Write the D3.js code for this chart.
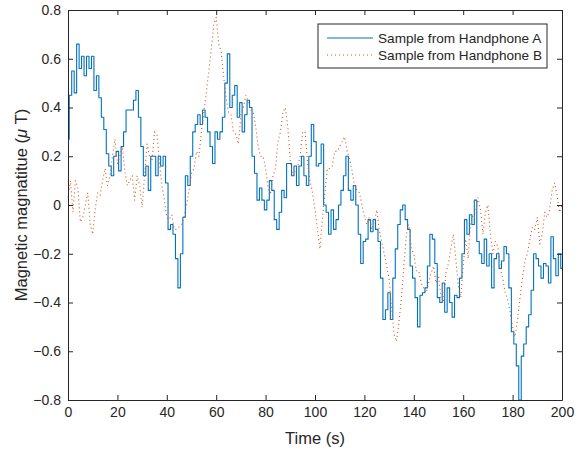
<!DOCTYPE html>
<html>
<head>
<meta charset="utf-8">
<script src="https://cdn.jsdelivr.net/npm/d3@7"></script>
<style>
  body { margin: 0; background: #fff; }
  svg text { font-family: "Liberation Sans", Arial, Helvetica, sans-serif; fill: #262626; }
</style>
</head>
<body>
<div id="chart"></div>
<script>
// Drawing area, the plot box sits inside these margins
const w = 582;
const h = 453;
const margin = { top: 10, right: 20, bottom: 53, left: 68 };

// Time between two samples (s)
const timeStep = 1;

// Handphone A, one value per second from 0 to 200 s (uT)
const seriesA = [
  0.27, 0.45, 0.55, 0.46, 0.66, 0.56, 0.61, 0.53, 0.61, 0.56, 0.61, 0.47, 0.53, 0.44, 0.36, 0.31, 0.21, 0.16, 0.12, 0.20,
  0.22, 0.14, 0.24, 0.30, 0.39, 0.39, 0.39, 0.43, 0.47, 0.36, 0.24, 0.12, 0.16, 0.06, 0.20, 0.20, 0.12, 0.20, 0.16, 0.20,
  0.09, -0.10, -0.08, -0.12, -0.22, -0.34, -0.20, -0.05, 0.12, 0.08, 0.20, 0.30, 0.33, 0.37, 0.33, 0.39, 0.36, 0.30, 0.24, 0.17,
  0.30, 0.27, 0.30, 0.36, 0.50, 0.62, 0.40, 0.45, 0.49, 0.36, 0.42, 0.30, 0.37, 0.43, 0.40, 0.20, 0.13, 0.02, 0.07, 0.02,
  -0.02, 0.02, 0.10, 0.06, -0.06, -0.10, -0.03, 0.06, 0.03, 0.17, 0.17, 0.12, 0.16, 0.08, 0.16, 0.20, 0.12, 0.08, 0.20, 0.33,
  0.26, 0.16, 0.17, 0.25, 0.00, -0.03, -0.12, -0.02, -0.10, -0.06, 0.00, 0.06, 0.12, 0.20, 0.06, 0.02, 0.08, 0.00, -0.12, -0.24,
  -0.15, -0.14, -0.06, -0.11, -0.06, -0.10, -0.15, -0.30, -0.47, -0.43, -0.36, -0.47, -0.30, -0.18, -0.08, -0.02, 0.00, -0.06, -0.10, -0.25,
  -0.30, -0.38, -0.50, -0.37, -0.36, -0.34, -0.25, -0.12, -0.14, -0.24, -0.38, -0.40, -0.32, -0.44, -0.34, -0.40, -0.46, -0.37, -0.38, -0.30,
  -0.20, -0.06, -0.12, -0.04, -0.08, 0.02, -0.15, -0.20, -0.24, -0.14, -0.25, -0.20, -0.34, -0.22, -0.20, -0.26, -0.23, -0.17, -0.20, -0.34,
  -0.52, -0.57, -0.66, -0.80, -0.62, -0.57, -0.50, -0.45, -0.35, -0.20, -0.22, -0.25, -0.30, -0.24, -0.25, -0.32, -0.13, -0.22, -0.29, -0.20,
  -0.26
];

// Handphone B, same time base
const seriesB = [
  0.03, 0.10, -0.03, 0.10, 0.07, -0.07, -0.05, 0.00, 0.05, -0.08, -0.12, -0.02, 0.05, 0.04, 0.10, 0.15, 0.08, 0.12, 0.20, 0.27,
  0.17, 0.20, 0.24, 0.14, 0.08, 0.10, 0.12, 0.02, 0.12, 0.08, -0.01, 0.12, 0.25, 0.20, 0.18, 0.30, 0.29, 0.18, 0.08, 0.02,
  -0.05, -0.06, -0.04, -0.10, -0.10, -0.09, -0.08, -0.05, 0.00, 0.06, 0.13, 0.15, 0.22, 0.20, 0.30, 0.38, 0.46, 0.55, 0.64, 0.74,
  0.77, 0.66, 0.63, 0.53, 0.44, 0.38, 0.37, 0.30, 0.29, 0.25, 0.37, 0.40, 0.45, 0.42, 0.39, 0.38, 0.32, 0.24, 0.20, 0.20,
  0.15, 0.07, 0.05, 0.12, 0.15, 0.26, 0.30, 0.38, 0.40, 0.32, 0.18, 0.12, 0.14, 0.16, 0.20, 0.30, 0.30, 0.17, 0.10, 0.05,
  -0.02, -0.10, -0.18, -0.06, 0.05, 0.15, 0.15, 0.16, 0.22, 0.22, 0.24, 0.26, 0.28, 0.22, 0.19, 0.14, 0.08, 0.06, 0.05, 0.00,
  -0.05, -0.08, -0.05, -0.10, -0.07, -0.02, -0.10, -0.15, -0.20, -0.25, -0.30, -0.42, -0.53, -0.56, -0.48, -0.38, -0.25, -0.12, -0.08, -0.18,
  -0.20, -0.27, -0.27, -0.32, -0.34, -0.36, -0.32, -0.28, -0.25, -0.32, -0.29, -0.38, -0.40, -0.28, -0.24, -0.18, -0.12, -0.22, -0.33, -0.38,
  -0.25, -0.14, -0.22, -0.07, -0.04, -0.03, 0.03, -0.02, -0.12, -0.03, 0.00, -0.12, -0.20, -0.15, -0.17, -0.26, -0.30, -0.36, -0.39, -0.44,
  -0.50, -0.54, -0.47, -0.38, -0.30, -0.23, -0.20, -0.14, -0.09, -0.10, -0.05, -0.16, -0.12, -0.03, -0.05, -0.02, 0.06, 0.09, 0.04, -0.03,
  0.00
];

// Tick labels
const xTicks = [0, 20, 40, 60, 80, 100, 120, 140, 160, 180, 200];
const yTicks = [-0.8, -0.6, -0.4, -0.2, 0, 0.2, 0.4, 0.6, 0.8];

const legendNames = ["Sample from Handphone A", "Sample from Handphone B"];
const colorA = "#0072BD";
const colorB = "#D95319";

const svg = d3.select("#chart").append("svg")
  .attr("width", w)
  .attr("height", h);

const xScale = d3.scaleLinear()
  .domain([0, 200])
  .range([margin.left, w - margin.right]);

const yScale = d3.scaleLinear()
  .domain([-0.8, 0.8])
  .range([h - margin.bottom, margin.top]);

// Lines go below the axes box. Sensor A is quantised, so it is drawn as steps
function drawSeries(values, color, dash, curve) {
  const line = d3.line()
    .curve(curve)
    .x((d, i) => xScale(i * timeStep))
    .y(d => yScale(d));

  svg.append("path")
    .datum(values)
    .attr("fill", "none")
    .attr("stroke", color)
    .attr("stroke-width", 1.1)
    .attr("stroke-dasharray", dash)
    .attr("stroke-linejoin", "round")
    .attr("d", line);
}

drawSeries(seriesA, colorA, null, d3.curveStep);
drawSeries(seriesB, colorB, "1,3", d3.curveLinear);

// Axes, ticks point inwards on all four sides like matlab's "box on"
function styleAxis(g) {
  g.selectAll("path.domain").attr("stroke", "#262626").attr("stroke-width", 1);
  g.selectAll(".tick line").attr("stroke", "#262626");
  g.selectAll(".tick text")
    .style("font-family", "'Liberation Sans', Arial, sans-serif")
    .style("font-size", "14px")
    .attr("fill", "#262626");
}

const bottom = h - margin.bottom;
const right = w - margin.right;

svg.append("g")
  .attr("transform", `translate(0,${bottom})`)
  .call(d3.axisBottom(xScale).tickValues(xTicks).tickSizeInner(-5).tickSizeOuter(0).tickPadding(7))
  .call(styleAxis);

svg.append("g")
  .attr("transform", `translate(0,${margin.top})`)
  .call(d3.axisTop(xScale).tickValues(xTicks).tickSizeInner(-5).tickSizeOuter(0).tickFormat(""))
  .call(styleAxis);

svg.append("g")
  .attr("transform", `translate(${margin.left},0)`)
  .call(d3.axisLeft(yScale).tickValues(yTicks).tickSizeInner(-5).tickSizeOuter(0).tickPadding(7)
    .tickFormat(d => d === 0 ? "0" : d3.format(".1f")(d)))
  .call(styleAxis);

svg.append("g")
  .attr("transform", `translate(${right},0)`)
  .call(d3.axisRight(yScale).tickValues(yTicks).tickSizeInner(-5).tickSizeOuter(0).tickFormat(""))
  .call(styleAxis);

// Axis titles
svg.append("text")
  .attr("x", (margin.left + right) / 2)
  .attr("y", 444)
  .style("text-anchor", "middle")
  .style("font-size", "16.5px")
  .text("Time (s)");

const yTitle = svg.append("text")
  .attr("transform", `translate(27,${yScale(0)}) rotate(-90)`)
  .style("text-anchor", "middle")
  .style("font-size", "16.5px");
yTitle.append("tspan").text("Magnetic magnatitue (");
yTitle.append("tspan").style("font-style", "italic").text("\u03bc");
yTitle.append("tspan").text(" T)");

// Legend
const legend = svg.append("g").attr("transform", "translate(318,24)");
legend.append("rect")
  .attr("width", 229)
  .attr("height", 44)
  .attr("fill", "#fff")
  .attr("stroke", "#262626")
  .attr("stroke-width", 1);

[colorA, colorB].forEach((c, i) => {
  const y = 14 + i * 17;
  legend.append("line")
    .attr("x1", 9).attr("x2", 55)
    .attr("y1", y).attr("y2", y)
    .attr("stroke", c)
    .attr("stroke-width", 1.1)
    .attr("stroke-dasharray", i === 1 ? "1,3" : null);
  legend.append("text")
    .attr("x", 60)
    .attr("y", y)
    .attr("dy", "0.35em")
    .style("font-size", "13.6px")
    .text(legendNames[i]);
});
</script>
</body>
</html>
